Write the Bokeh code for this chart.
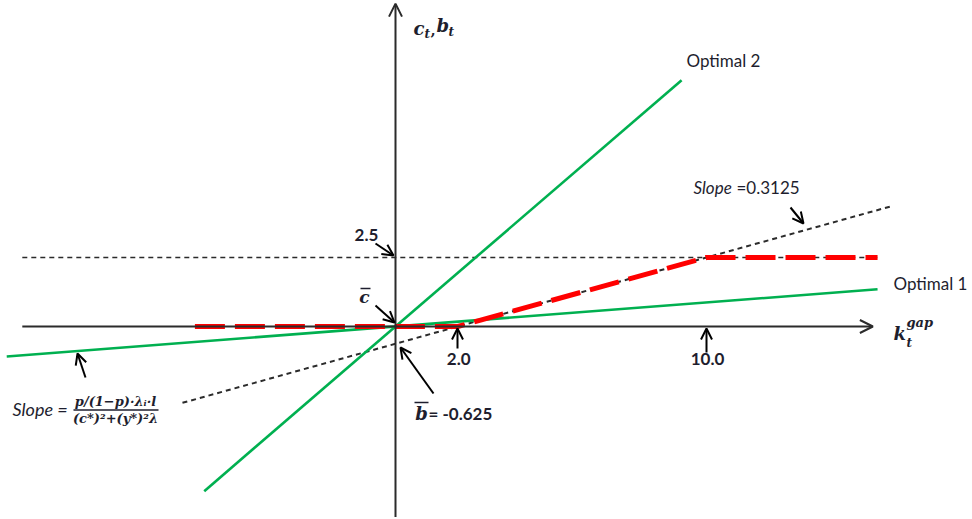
from bokeh.plotting import figure
from bokeh.models import Range1d, Label, Arrow, OpenHead
from bokeh.embed import file_html
from bokeh.resources import INLINE

# ---- data (model units) ----
x_axis_ext = [-12.0, 15.35]
y_axis_ext = [-6.9, 11.7]
opt1_x = [-12.5, 15.5]
opt1_slope = 0.087
opt2_x = [-6.15, 9.2]
opt2_slope = 0.97
slope_x = [-6.85, 16.0]
slope_val = 0.3125
b_bar = -0.625
cap_val = 2.5
cap_x = [-12.0, 15.5]
red_x = [-6.45, 2.0, 10.0, 15.5]
red_y = [0.0, 0.0, 2.5, 2.5]
tick_x = [2.0, 10.0]
tick_labels = ["2.0", "10.0"]

W, H = 972, 519
OX, OY = 395, 326       # origin in pixels
SX, SY = 31.1, 27.6     # pixels per unit


def dx(px):
    return (px - OX) / SX


def dy(py):
    return (OY - py) / SY


p = figure(width=W, height=H, output_backend="svg", toolbar_location=None,
           x_range=Range1d(dx(0), dx(W)), y_range=Range1d(dy(H), dy(0)),
           min_border=0, min_border_left=0, min_border_right=0,
           min_border_top=0, min_border_bottom=0)
p.axis.visible = False
p.grid.visible = False
p.outline_line_color = None
p.background_fill_color = "white"

AX = "#2b2b2b"
GREEN = "#00B050"

# axes
p.add_layout(Arrow(end=OpenHead(size=13, line_width=2, line_color=AX),
                   x_start=x_axis_ext[0], y_start=0, x_end=x_axis_ext[1], y_end=0,
                   line_width=2, line_color=AX))
p.add_layout(Arrow(end=OpenHead(size=13, line_width=2, line_color=AX),
                   x_start=0, y_start=y_axis_ext[0], x_end=0, y_end=y_axis_ext[1],
                   line_width=2, line_color=AX))

# horizontal dashed at 2.5
p.line(cap_x, [cap_val, cap_val], line_color=AX, line_width=1.4, line_dash="5 4")

# slope dotted line
p.line(slope_x, [slope_val * v + b_bar for v in slope_x], line_color=AX,
       line_width=2, line_dash="5 4")

# green lines
p.line(opt1_x, [opt1_slope * v for v in opt1_x], line_color=GREEN, line_width=2.6)
p.line(opt2_x, [opt2_slope * v for v in opt2_x], line_color=GREEN, line_width=2.6)

# red dashed policy
p.line(red_x, red_y, line_color="#FF0000", line_width=5, line_dash="30 10")


# small pointer arrows
def arrow(x0, y0, x1, y1):
    p.add_layout(Arrow(end=OpenHead(size=11, line_width=2, line_color="black"),
                       x_start=dx(x0), y_start=dy(y0), x_end=dx(x1), y_end=dy(y1),
                       line_width=2, line_color="black"))


arrow(375, 243, 393, 255)
arrow(375, 305, 394, 322)
arrow(457, 348, 457, 328)
arrow(706, 352, 706, 328)
arrow(433, 393, 400, 347)
arrow(790, 207, 803, 223)
arrow(85, 377, 77, 353)

TXT = "#1e1e2e"


def lab(px, py, text, size=15, style="normal", font="Lato", align="left",
        baseline="middle"):
    p.add_layout(Label(x=dx(px), y=dy(py), text=text, text_font=font,
                       text_font_size=f"{size}px", text_font_style=style,
                       text_color=TXT, text_align=align, text_baseline=baseline))


def bar(x0, x1, py):
    p.line([dx(x0), dx(x1)], [dy(py), dy(py)], line_color=TXT, line_width=1.5)


# series labels
lab(686, 60, "Optimal 2", 17)
lab(893, 283, "Optimal 1", 17)
lab(693, 187, "Slope", 17, "italic")
lab(736, 187, "=0.3125", 17)

# value labels
lab(366, 234, "2.5", 17, "bold", align="center")
for tx, tl in zip(tick_x, tick_labels):
    lab(OX + tx * SX + 1, 358, tl, 17, "bold", align="center")

SERIF = "DejaVu Serif"
# c-bar
lab(364, 296, "c", 17, "bold italic", SERIF, align="center")
bar(360, 370, 288)
# b-bar
lab(421, 413, "b", 18, "bold italic", SERIF, align="center")
bar(414, 428, 402)
lab(428, 413, "= -0.625", 17, "bold")

# y axis label c_t, b_t
lab(413, 28, "c", 18, "bold italic", SERIF)
lab(424, 33, "t", 12, "bold italic", SERIF)
lab(430, 29, ",", 15, "bold", SERIF)
lab(436, 25, "b", 18, "bold italic", SERIF)
lab(448, 31, "t", 12, "bold italic", SERIF)

# x axis label k_t^gap
lab(893, 333, "k", 18, "bold italic", SERIF)
lab(906, 322, "gap", 13, "bold italic", SERIF)
lab(906, 342, "t", 12, "bold italic", SERIF)

# slope formula
lab(12, 408, "Slope =", 18, "italic")
lab(115, 401, "p/(1\u2212p)\u00b7\u03bb\u1d62\u00b7l", 13, "bold italic", SERIF, align="center")
lab(115, 418, "(c*)\u00b2+(y*)\u00b2\u03bb", 13, "bold italic", SERIF, align="center")
bar(73, 158, 409.5)

open("out.html", "w").write(file_html(p, INLINE))
